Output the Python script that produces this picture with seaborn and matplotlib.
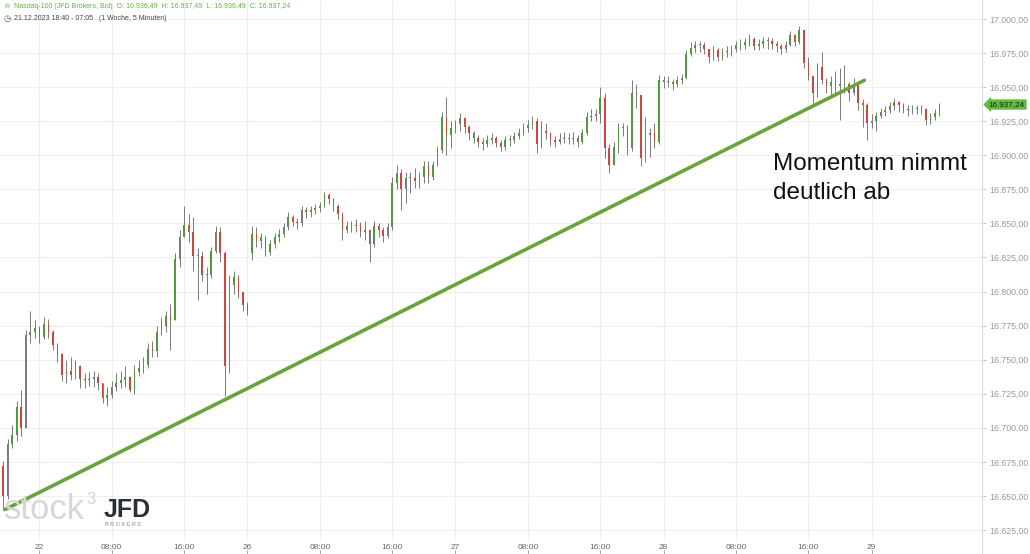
import numpy as np
import pandas as pd
import matplotlib
matplotlib.use("Agg")
import matplotlib.pyplot as plt
import matplotlib.transforms as mtransforms
import seaborn as sns

# ---------------- data (30-minute bars) ----------------
BAR_START = -4.0   # trading hours relative to 22 Dec 00:00 (23h trading day)
BAR_STEP = 0.5
FIRST_OPEN = 16672
GAP_OPENS = {55: 16828}   # first bar after the Christmas break

closes = [
    16650, 16688, 16695, 16715, 16700, 16768, 16770, 16773, 16767, 16776,
    16770, 16761, 16754, 16739, 16742, 16739, 16745, 16736, 16735, 16736,
    16737, 16733, 16722, 16724, 16730, 16733, 16735, 16737, 16728, 16741,
    16744, 16746, 16758, 16756, 16770, 16775, 16782, 16779, 16824, 16840,
    16849, 16844, 16826, 16826, 16812, 16812, 16830, 16844, 16828, 16745,
    16805, 16811, 16800, 16790, 16786,
    16842, 16837, 16840, 16829, 16835,
    16840, 16842, 16847, 16855, 16851, 16850, 16860, 16858, 16860, 16861,
    16863, 16871, 16868, 16863, 16857, 16845, 16848, 16848, 16849, 16844,
    16845, 16835, 16848, 16845, 16841, 16847, 16880, 16887, 16875, 16883,
    16883, 16881, 16884, 16892, 16884, 16893, 16904, 16928, 16915, 16920,
    16923, 16927, 16921, 16916, 16913, 16910, 16908, 16911, 16913, 16909,
    16906, 16911, 16911, 16914, 16916, 16920, 16922, 16925, 16908, 16918,
    16916, 16911, 16910, 16912, 16913, 16912, 16913, 16910, 16916, 16928,
    16929, 16930, 16942, 16905, 16893, 16906, 16920, 16920, 16905, 16946,
    16944, 16898, 16915, 16916, 16910, 16955, 16954, 16954, 16952, 16955,
    16957, 16974, 16979, 16981, 16981, 16978, 16972, 16977, 16972, 16976,
    16976, 16978, 16981, 16981, 16983, 16985, 16980, 16982, 16984, 16984,
    16982, 16980, 16978, 16981, 16988, 16983, 16992, 16968, 16958, 16946,
    16965, 16955, 16951, 16954, 16951, 16952, 16952, 16946, 16952, 16938,
    16937, 16924, 16925, 16929, 16932, 16933, 16936, 16939, 16937, 16934,
    16933, 16934, 16934, 16934, 16926, 16928, 16931, 16937.24,
]
highs = [
    16676, 16692, 16702, 16720, 16728, 16772, 16786, 16779, 16775, 16781,
    16780, 16772, 16762, 16755, 16750, 16752, 16750, 16746, 16740, 16741,
    16742, 16740, 16732, 16730, 16734, 16740, 16742, 16745, 16738, 16746,
    16750, 16752, 16762, 16764, 16775, 16781, 16786, 16791, 16828, 16845,
    16863, 16857, 16855, 16832, 16830, 16818, 16833, 16848, 16847, 16830,
    16812, 16815, 16812, 16800, 16792,
    16848, 16847, 16843, 16841, 16838,
    16843, 16846, 16850, 16858, 16856, 16854, 16863, 16862, 16863, 16864,
    16866, 16873, 16872, 16869, 16864, 16858, 16852, 16852, 16853, 16851,
    16852, 16846, 16852, 16850, 16847, 16850, 16884, 16893, 16890, 16888,
    16888, 16891, 16888, 16896, 16896, 16896, 16907, 16932, 16943, 16925,
    16926, 16931, 16928, 16922, 16918, 16915, 16913, 16915, 16916, 16914,
    16911, 16914, 16915, 16917, 16920, 16924, 16926, 16929, 16927, 16925,
    16924, 16917, 16914, 16916, 16917, 16916, 16917, 16915, 16919, 16932,
    16934, 16934, 16950, 16946, 16908, 16910, 16924, 16924, 16922, 16955,
    16952, 16944, 16928, 16920, 16924, 16959, 16958, 16958, 16956, 16958,
    16960, 16977, 16983, 16984, 16984, 16983, 16978, 16980, 16979, 16979,
    16980, 16981, 16984, 16985, 16986, 16989, 16987, 16985, 16987, 16987,
    16986, 16984, 16982, 16984, 16991, 16989, 16995, 16991, 16972, 16956,
    16968, 16976, 16957, 16958, 16962, 16964, 16966, 16954, 16957, 16950,
    16941, 16938, 16930, 16932, 16935, 16936, 16939, 16942, 16940, 16938,
    16937, 16937, 16937, 16937, 16935, 16931, 16934, 16938,
]
lows = [
    16640, 16648, 16685, 16690, 16694, 16700, 16762, 16766, 16762, 16765,
    16766, 16757, 16748, 16734, 16733, 16735, 16736, 16729, 16729, 16731,
    16730, 16728, 16718, 16716, 16722, 16727, 16729, 16730, 16726, 16725,
    16738, 16740, 16744, 16752, 16752, 16768, 16770, 16757, 16779, 16818,
    16840, 16836, 16815, 16794, 16808, 16798, 16810, 16828, 16822, 16723,
    16740, 16798, 16795, 16786, 16783,
    16823, 16833, 16832, 16826, 16827,
    16832, 16836, 16840, 16845, 16848, 16846, 16848, 16854, 16855, 16857,
    16858, 16862, 16864, 16859, 16853, 16838, 16843, 16844, 16844, 16840,
    16838, 16822, 16833, 16840, 16836, 16839, 16845, 16875, 16860, 16865,
    16872, 16876, 16876, 16880, 16880, 16882, 16892, 16902, 16900, 16905,
    16916, 16918, 16916, 16911, 16909, 16906, 16904, 16906, 16908, 16906,
    16903, 16904, 16907, 16909, 16912, 16915, 16917, 16919, 16902, 16905,
    16912, 16907, 16906, 16908, 16909, 16908, 16908, 16906, 16908, 16915,
    16925, 16925, 16924, 16898, 16887, 16894, 16902, 16914, 16900, 16903,
    16935, 16892, 16895, 16899, 16905, 16908, 16949, 16950, 16948, 16950,
    16952, 16956, 16973, 16976, 16976, 16974, 16968, 16970, 16969, 16970,
    16972, 16973, 16976, 16977, 16978, 16980, 16977, 16977, 16979, 16978,
    16978, 16976, 16974, 16976, 16980, 16980, 16982, 16964, 16955, 16938,
    16943, 16952, 16946, 16943, 16946, 16926, 16946, 16940, 16944, 16933,
    16921, 16911, 16920, 16918, 16927, 16929, 16931, 16933, 16932, 16931,
    16929, 16930, 16930, 16930, 16922, 16923, 16926, 16929,
]

# trend line (two anchor points: trading hour, price)
trend_hours = [-3.8, 91.2]
trend_prices = [16640, 16955]

# axes ticks
tick_hours = [0, 8, 16, 23, 31, 39, 46, 54, 62, 69, 77, 85, 92]
tick_labels = ["22", "08:00", "16:00", "26", "08:00", "16:00", "27",
               "08:00", "16:00", "28", "08:00", "16:00", "29"]
price_ticks = [16625, 16650, 16675, 16700, 16725, 16750, 16775, 16800,
               16825, 16850, 16875, 16900, 16925, 16950, 16975, 17000]
last_price = 16937.24

header_title = "Nasdaq-100 (JFD Brokers, Bid)  O: 16.936,49  H: 16.937,49  L: 16.936,49  C: 16.937,24"
header_sub = "21.12.2023 18:40 - 07:05   (1 Woche, 5 Minuten)"
annotation = "Momentum nimmt\ndeutlich ab"


def de_fmt(v):
    return f"{v:,.2f}".replace(",", "X").replace(".", ",").replace("X", ".")


# ---------------- frame ----------------
df = pd.DataFrame({"close": closes, "high": highs, "low": lows})
df["hour"] = BAR_START + BAR_STEP * np.arange(len(df))
df["open"] = df["close"].shift(1)
df.loc[0, "open"] = FIRST_OPEN
for k, v in GAP_OPENS.items():
    df.loc[k, "open"] = v
df["high"] = df[["high", "open", "close"]].max(axis=1)
df["low"] = df[["low", "open", "close"]].min(axis=1)
df["up"] = df["close"] >= df["open"]

# ---------------- style ----------------
sns.set_theme(style="white")
plt.rcParams["font.family"] = ["Liberation Sans", "DejaVu Sans"]

W, H = 1030, 554
fig = plt.figure(figsize=(W / 100, H / 100), dpi=100)
fig.patch.set_facecolor("white")
ax = fig.add_axes([0, 0, 982 / W, 1])
ax.set_facecolor("white")

px_per_hour = 9.047
x0_px = 39.3
ax.set_xlim(-x0_px / px_per_hour, (982 - x0_px) / px_per_hour)
price_per_px = 25 / 34.07
ax.set_ylim(16625 - 24 * price_per_px, 17000 + 19 * price_per_px)

# grid
for p in price_ticks:
    ax.axhline(p, color="#efefef", lw=0.8, zorder=0)
for h in tick_hours:
    ax.axvline(h, ymin=13 / H, ymax=1, color="#efefef", lw=0.8, zorder=0)

# candles
ax.vlines(df["hour"], df["low"], df["high"], color="#7a7a7a", lw=0.7, zorder=2)
body_bottom = df[["open", "close"]].min(axis=1)
body_h = (df["close"] - df["open"]).abs().clip(lower=0.7)
colors = np.where(df["up"], "#4f9a3e", "#d2453a")
ax.bar(df["hour"], body_h, bottom=body_bottom, width=0.17, color=colors,
       linewidth=0, zorder=3)

# trend line
sns.lineplot(x=trend_hours, y=trend_prices, ax=ax, color="#68a43a", lw=2.6,
             zorder=4, legend=False)

# axes appearance
for s in ["left", "top", "bottom"]:
    ax.spines[s].set_visible(False)
ax.spines["right"].set_color("#dddddd")
ax.spines["right"].set_linewidth(0.8)

ax.yaxis.tick_right()
ax.set_yticks(price_ticks)
ax.set_yticklabels([de_fmt(p) for p in price_ticks])
ax.tick_params(axis="y", right=True, left=False, length=3, width=0.6,
               color="#bbbbbb", labelsize=6.3, labelcolor="#9a9a9a", pad=2)

ax.set_xticks(tick_hours)
ax.set_xticklabels(tick_labels)
ax.tick_params(axis="x", bottom=True, direction="in", length=3, width=0.6,
               color="#999999", labelsize=6, labelcolor="#666666", pad=-7.5)
ax.set_xlabel("")
ax.set_ylabel("")

# price tag
trans = mtransforms.blended_transform_factory(ax.transAxes, ax.transData)
ax.text(1.007, last_price, de_fmt(last_price), transform=trans, ha="left",
        va="center", fontsize=5.9, color="#10300a", clip_on=False, zorder=6,
        bbox=dict(boxstyle="larrow,pad=0.2", fc="#63b944", ec="none"))

# annotation
ax.text(773 / 982, 1 - 153 / H, annotation, transform=ax.transAxes,
        ha="left", va="top", fontsize=17.5, color="#111111", linespacing=1.42,
        zorder=6)

# header
fig.text(14 / W, 1 - 6.5 / H, header_title, ha="left", va="center",
         fontsize=5.0, color="#5fb344")
fig.text(4 / W, 1 - 6.5 / H, "ılı", ha="left", va="center", fontsize=5.0,
         color="#5fb344", family=["DejaVu Sans"])
fig.text(14 / W, 1 - 19 / H, header_sub, ha="left", va="center",
         fontsize=5.0, color="#444444")
fig.text(4 / W, 1 - 19 / H, "◷", ha="left", va="center", fontsize=6,
         color="#555555", family=["DejaVu Sans"])

# watermark
fig.text(4 / W, 1 - 519 / H, "stock", ha="left", va="baseline", fontsize=25,
         color="#d6d6d6", zorder=1)
fig.text(86 / W, 1 - 504 / H, "3", ha="left", va="baseline", fontsize=12,
         color="#d6d6d6", zorder=1)
fig.text(104 / W, 1 - 517 / H, "JFD", ha="left", va="baseline", fontsize=18,
         fontweight="bold", color="#2a2e35",
         family=["Liberation Sans Narrow", "Liberation Sans"])
fig.text(105 / W, 1 - 524.5 / H, "B R O K E R S", ha="left", va="center",
         fontsize=4.0, color="#8a8a8a")

fig.savefig("out.png", dpi=100, facecolor="white")
